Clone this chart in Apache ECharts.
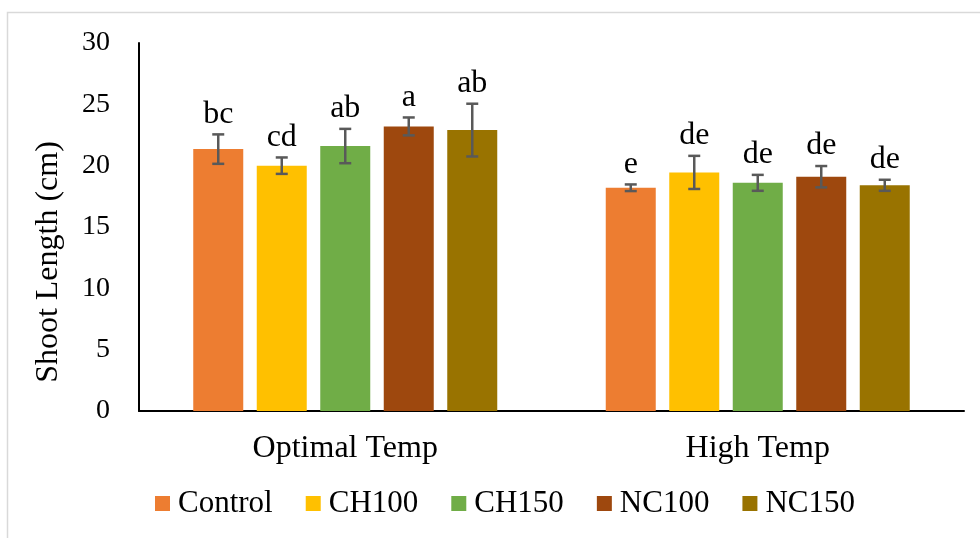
<!DOCTYPE html>
<html>
<head>
<meta charset="utf-8">
<script src="https://cdn.jsdelivr.net/npm/echarts@6/dist/echarts.min.js"></script>
<style>html,body{margin:0;padding:0;background:#fff;}#c{width:980px;height:538px;}</style>
</head>
<body>
<div id="c"></div>
<script>
const categories = ['Optimal Temp', 'High Temp'];
const seriesNames = ['Control', 'CH100', 'CH150', 'NC100', 'NC150'];
const colors = ['#ED7D31', '#FFC000', '#70AD47', '#9E480E', '#997300'];
const control = [21.35, 18.2];
const ch100 = [20.0, 19.45];
const ch150 = [21.6, 18.6];
const nc100 = [23.2, 19.1];
const nc150 = [22.9, 18.4];
const controlErr = [1.2, 0.27];
const ch100Err = [0.67, 1.35];
const ch150Err = [1.4, 0.65];
const nc100Err = [0.73, 0.87];
const nc150Err = [2.15, 0.45];
const controlLetters = ['bc', 'e'];
const ch100Letters = ['cd', 'de'];
const ch150Letters = ['ab', 'de'];
const nc100Letters = ['a', 'de'];
const nc150Letters = ['ab', 'de'];
const yTicks = [0, 5, 10, 15, 20, 25, 30];
const yTitle = 'Shoot Length (cm)';

const values = [control, ch100, ch150, nc100, nc150];
const errs = [controlErr, ch100Err, ch150Err, nc100Err, nc150Err];
const letters = [controlLetters, ch100Letters, ch150Letters, nc100Letters, nc150Letters];

const FONT = '"Liberation Serif", "Times New Roman", serif';
const BAR_W = 50;
const GAP_PCT = 0.27;

const series = [];
seriesNames.forEach((name, i) => {
  series.push({
    name: name,
    type: 'bar',
    data: values[i],
    barWidth: BAR_W,
    barGap: (GAP_PCT * 100) + '%',
    itemStyle: { color: colors[i] },
    z: 2
  });
});
seriesNames.forEach((name, i) => {
  const data = categories.map((c, k) => [k, values[i][k], errs[i][k], letters[i][k]]);
  series.push({
    type: 'custom',
    name: name + '_err',
    data: data,
    z: 5,
    silent: true,
    encode: { x: 0, y: 1 },
    renderItem: function (params, api) {
      const k = api.value(0);
      const v = api.value(1);
      const e = api.value(2);
      const gap = BAR_W * GAP_PCT;
      const total = seriesNames.length * BAR_W + (seriesNames.length - 1) * gap;
      const offset = -total / 2 + i * (BAR_W + gap) + BAR_W / 2;
      const top = api.coord([k, v + e]);
      const bot = api.coord([k, v - e]);
      const x = top[0] + offset;
      const cap = 6;
      const st = { stroke: '#595959', lineWidth: 2.5 };
      return {
        type: 'group',
        children: [
          { type: 'line', shape: { x1: x, y1: top[1], x2: x, y2: bot[1] }, style: st },
          { type: 'line', shape: { x1: x - cap, y1: top[1], x2: x + cap, y2: top[1] }, style: st },
          { type: 'line', shape: { x1: x - cap, y1: bot[1], x2: x + cap, y2: bot[1] }, style: st },
          { type: 'text', style: { text: data[k][3], x: x, y: top[1] - 4, align: 'center', verticalAlign: 'bottom',
              fontFamily: FONT, fontSize: 32, fill: '#000' } }
        ]
      };
    }
  });
});

const chart = echarts.init(document.getElementById('c'));
chart.setOption({
  animation: false,
  backgroundColor: '#fff',
  graphic: [{
    type: 'rect', shape: { x: 7.5, y: 12.5, width: 1000, height: 600 },
    style: { fill: 'none', stroke: '#d9d9d9', lineWidth: 1.5 }, silent: true
  }, {
    type: 'text', x: 49, y: 262, rotation: Math.PI / 2,
    style: { text: yTitle, fontFamily: FONT, fontSize: 32, fill: '#000', align: 'center', verticalAlign: 'middle' },
    silent: true
  }],
  grid: { left: 139, right: 16, top: 43, bottom: 127 },
  legend: {
    data: seriesNames,
    bottom: 14,
    left: 150,
    itemWidth: 15,
    itemHeight: 15,
    itemGap: 33,
    icon: 'rect',
    textStyle: { fontFamily: FONT, fontSize: 31, color: '#000', padding: [0, 0, 0, 3] }
  },
  xAxis: {
    type: 'category',
    data: categories,
    axisLine: { lineStyle: { color: '#000', width: 2 } },
    axisTick: { show: false },
    axisLabel: { fontFamily: FONT, fontSize: 32, color: '#000', margin: 22 }
  },
  yAxis: {
    type: 'value',
    min: 0, max: 30, interval: 5,
    axisLine: { show: true, lineStyle: { color: '#000', width: 2 } },
    axisTick: { show: false },
    splitLine: { show: false },
    axisLabel: { fontFamily: FONT, fontSize: 28, color: '#000', margin: 29,
      formatter: function (v) { return yTicks.indexOf(v) >= 0 ? String(v) : ''; } }
  },
  series: series
});
</script>
</body>
</html>
